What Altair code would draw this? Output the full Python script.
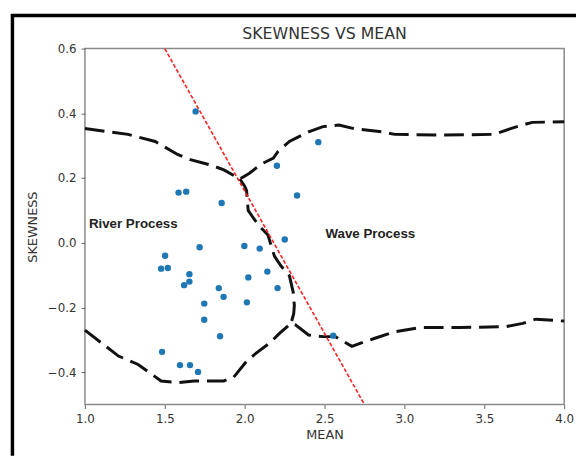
import altair as alt
import pandas as pd

# Scatter data (MEAN vs SKEWNESS)
mean_vals = [1.693, 1.586, 1.634, 1.856, 2.202, 2.328, 2.461, 2.251, 1.718, 1.502,
             1.477, 1.519, 1.654, 1.621, 1.654, 1.838, 1.868, 1.747, 1.747, 1.846,
             1.483, 1.595, 1.658, 1.708, 1.998, 2.094, 2.142, 2.023, 2.206, 2.014,
             2.554]
skew_vals = [0.406, 0.155, 0.158, 0.123, 0.238, 0.146, 0.311, 0.010, -0.014, -0.040,
             -0.080, -0.078, -0.097, -0.131, -0.120, -0.140, -0.167, -0.188, -0.238, -0.289,
             -0.337, -0.378, -0.378, -0.399, -0.010, -0.018, -0.089, -0.107, -0.140, -0.184,
             -0.287]

# Black dashed boundary curves
upper_x = [1.0, 1.27, 1.44, 1.58, 1.66, 1.79, 1.87, 1.97, 2.03, 2.10, 2.18, 2.21, 2.28,
           2.40, 2.49, 2.59, 2.69, 2.86, 2.94, 3.25, 3.56, 3.66, 3.74, 3.80, 4.0]
upper_y = [0.353, 0.335, 0.313, 0.273, 0.257, 0.240, 0.225, 0.197, 0.215, 0.242, 0.262,
           0.283, 0.313, 0.343, 0.359, 0.364, 0.352, 0.343, 0.335, 0.333, 0.335, 0.352,
           0.364, 0.372, 0.374]
middle_x = [1.97, 2.00, 2.012, 2.022, 2.064, 2.105, 2.146, 2.167, 2.187, 2.228, 2.28,
            2.304, 2.311, 2.307, 2.29]
middle_y = [0.197, 0.175, 0.161, 0.100, 0.070, 0.045, 0.024, -0.011, -0.042, -0.072,
            -0.102, -0.153, -0.194, -0.219, -0.249]
lower_x = [1.0, 1.21, 1.333, 1.477, 1.58, 1.683, 1.869, 1.93, 2.012, 2.074, 2.156, 2.218,
           2.29, 2.32, 2.40, 2.49, 2.568, 2.671, 2.815, 2.938, 3.10, 3.35, 3.638, 3.741,
           3.823, 4.0]
lower_y = [-0.270, -0.350, -0.376, -0.427, -0.432, -0.427, -0.427, -0.416, -0.366, -0.340,
           -0.310, -0.280, -0.249, -0.254, -0.285, -0.290, -0.290, -0.320, -0.295, -0.275,
           -0.262, -0.262, -0.259, -0.249, -0.236, -0.242]

# Red dashed divider line
red_x = [1.5, 2.75]
red_y = [0.6, -0.5]

# Annotations
label_text = ["River Process", "Wave Process"]
label_x = [1.025, 2.506]
label_y = [0.058, 0.027]
title_text = "SKEWNESS VS MEAN"

x_ticks = [1.0, 1.5, 2.0, 2.5, 3.0, 3.5, 4.0]
y_ticks = [-0.4, -0.2, 0.0, 0.2, 0.4, 0.6]

pts = pd.DataFrame({"MEAN": mean_vals, "SKEWNESS": skew_vals})
rows = []
for name, xs, ys in [("upper", upper_x, upper_y), ("middle", middle_x, middle_y),
                     ("lower", lower_x, lower_y)]:
    for i, (a, b) in enumerate(zip(xs, ys)):
        rows.append({"seg": name, "idx": i, "MEAN": a, "SKEWNESS": b})
bound = pd.DataFrame(rows)
red = pd.DataFrame({"MEAN": red_x, "SKEWNESS": red_y, "idx": [0, 1]})
labels = pd.DataFrame({"t": label_text, "MEAN": label_x, "SKEWNESS": label_y})

xs = alt.Scale(domain=[1.0, 4.0], nice=False, zero=False)
ys = alt.Scale(domain=[-0.5, 0.6], nice=False, zero=False)
xenc = alt.X("MEAN:Q", scale=xs, axis=alt.Axis(values=x_ticks, format=".1f", title="MEAN"))
yenc = alt.Y("SKEWNESS:Q", scale=ys, axis=alt.Axis(values=y_ticks, format=".1f", title="SKEWNESS"))

boundary = alt.Chart(bound).mark_line(
    color="#111111", strokeWidth=3, strokeDash=[20, 8]
).encode(x=xenc, y=yenc, detail="seg:N", order="idx:Q")

points = alt.Chart(pts).mark_circle(size=42, opacity=1, color="#1f77b4").encode(x=xenc, y=yenc)

redline = alt.Chart(red).mark_line(
    color="#ff2020", strokeWidth=1.6, strokeDash=[4, 2]
).encode(x=xenc, y=yenc, order="idx:Q")

texts = alt.Chart(labels).mark_text(
    align="left", baseline="middle", font="Liberation Sans", fontWeight="bold",
    fontSize=13.5, color="#222222"
).encode(x=xenc, y=yenc, text="t:N")

one = pd.DataFrame({"a": [0]})
title = alt.Chart(one).mark_text(
    text=title_text, font="DejaVu Sans", fontSize=16, color="#333333",
    align="center", baseline="middle"
).encode(x=alt.value(243), y=alt.value(-15))
frame_left = alt.Chart(one).mark_rule(color="black", strokeWidth=3.5).encode(
    x=alt.value(-73.5), y=alt.value(-35), y2=alt.value(413))
frame_top = alt.Chart(one).mark_rule(color="black", strokeWidth=3.5).encode(
    x=alt.value(-75), x2=alt.value(498), y=alt.value(-33.5))

chart = alt.layer(boundary, points, redline, texts, title, frame_left, frame_top).properties(
    width=486, height=361,
    autosize=alt.AutoSizeParams(type="none"),
    padding={"left": 78, "top": 38, "right": 12, "bottom": 52},
).configure_view(
    stroke="#8a8a8a", strokeWidth=1.5
).configure_axis(
    grid=False, domain=False, tickColor="#666666", tickSize=4, tickWidth=1,
    labelFlush=False, labelOverlap=False,
    labelFont="DejaVu Sans", labelFontSize=12, labelColor="#333333", labelPadding=5,
    titleFont="DejaVu Sans", titleFontSize=13, titleFontWeight="normal", titleColor="#333333",
).configure_axisY(titlePadding=8).configure_axisX(titlePadding=4)

chart.save("out.html", embed_options={"renderer": "svg", "actions": False})
